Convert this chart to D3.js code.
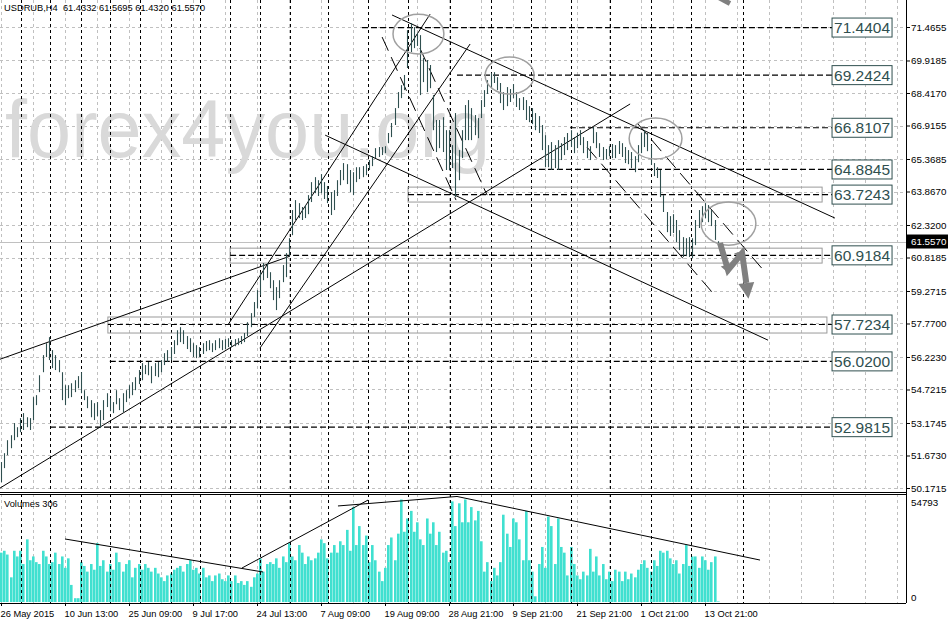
<!DOCTYPE html>
<html lang="en">
<head>
<meta charset="UTF-8" />
<title>USDRUB H4</title>
<script src="https://d3js.org/d3.v7.min.js"></script>
<style>
  body { margin: 0; background: #fff; }
  svg { display: block; }
  text { font-family: "Liberation Sans", Arial, sans-serif; }
</style>
</head>
<body>
<svg id="chart" width="948" height="620"></svg>
<script>
// bar data (H4)
const highs = [
  51.37, 51.78, 52.38, 52.61, 53.17, 52.98, 53.40, 53.63, 53.44, 53.40,
  54.37, 54.46, 55.38, 56.31, 56.86, 57.14, 56.54, 56.31, 56.08, 55.52,
  54.92, 54.92, 55.01, 55.15, 55.34, 55.52, 54.69, 54.41, 54.23, 54.09,
  54.14, 53.77, 54.23, 54.55, 54.32, 54.14, 54.69, 54.32, 54.55, 54.69,
  54.92, 55.06, 55.29, 55.62, 55.94, 55.85, 55.99, 55.80, 55.94, 55.99,
  56.08, 56.40, 56.54, 56.68, 57.00, 57.46, 57.60, 57.46, 57.19, 57.09,
  56.86, 56.77, 56.68, 56.86, 56.96, 57.00, 56.86, 57.00, 57.09, 57.00,
  57.05, 57.09, 57.00, 57.05, 57.09, 57.19, 57.33, 57.83, 58.25, 58.76,
  59.31, 60.14, 60.56, 60.56, 60.14, 59.77, 59.45, 59.77, 60.47, 61.02,
  61.71, 63.01, 63.47, 63.33, 63.15, 63.24, 63.70, 64.30, 64.53, 64.39,
  64.67, 64.30, 64.12, 63.84, 63.93, 64.39, 64.86, 65.18, 65.13, 64.86,
  64.76, 64.99, 64.99, 65.04, 65.13, 65.32, 65.50, 65.87, 65.92, 65.92,
  65.96, 66.57, 67.03, 67.72, 68.46, 68.78, 69.25, 71.32, 71.65, 71.46,
  71.19, 71.09, 70.03, 69.94, 69.71, 68.32, 67.17, 67.17, 67.30, 66.70,
  66.70, 66.01, 67.49, 65.78, 66.70, 67.86, 68.09, 67.72, 67.40, 67.26,
  68.09, 68.55, 69.01, 69.34, 69.38, 69.15, 68.88, 68.46, 68.69, 68.60,
  68.83, 68.46, 68.18, 68.23, 68.09, 67.81, 67.72, 67.49, 67.35, 66.94,
  66.47, 66.01, 66.15, 66.01, 66.24, 66.10, 66.38, 66.57, 66.70, 66.38,
  66.57, 66.70, 66.38, 66.20, 65.96, 66.84, 66.61, 66.10, 65.92, 65.83,
  65.96, 66.06, 66.01, 66.20, 66.10, 65.92, 65.78, 65.69, 65.50, 66.01,
  66.57, 66.70, 66.57, 66.01, 65.18, 64.99, 64.86, 63.70, 62.92, 62.73,
  62.82, 62.55, 62.08, 61.76, 61.71, 61.76, 61.71, 62.55, 63.01, 63.19,
  63.33, 63.24, 63.01, 62.55, 61.57
];
const lows = [
  50.44, 51.09, 51.69, 52.01, 52.38, 52.52, 52.75, 52.85, 52.98, 52.85,
  53.31, 54.00, 54.60, 55.52, 56.22, 56.08, 55.71, 55.62, 55.52, 54.23,
  54.00, 54.32, 54.37, 54.60, 54.78, 54.55, 54.23, 53.86, 53.44, 53.31,
  53.49, 52.94, 53.31, 53.91, 53.72, 53.63, 54.04, 53.77, 53.67, 54.14,
  54.32, 54.46, 54.69, 54.97, 55.15, 55.43, 55.38, 55.01, 55.34, 55.29,
  55.52, 55.85, 55.99, 56.08, 56.36, 56.77, 56.91, 56.82, 56.59, 56.45,
  56.22, 56.17, 56.22, 56.36, 56.49, 56.54, 56.45, 56.54, 56.63, 56.54,
  56.59, 56.68, 56.68, 56.72, 56.77, 56.82, 56.91, 57.19, 57.60, 58.07,
  58.48, 59.08, 59.77, 59.87, 59.40, 58.85, 58.39, 58.94, 59.68, 59.91,
  60.88, 61.85, 62.55, 62.64, 62.55, 62.64, 62.82, 63.38, 63.79, 63.66,
  63.79, 63.52, 63.33, 62.78, 63.01, 63.66, 64.16, 64.39, 64.21, 63.84,
  63.70, 64.30, 64.44, 64.53, 64.62, 64.86, 65.04, 65.41, 65.46, 65.55,
  65.64, 66.10, 66.38, 66.94, 67.72, 68.18, 68.55, 69.57, 70.31, 70.49,
  70.59, 68.32, 68.92, 68.46, 68.64, 66.70, 65.69, 65.87, 65.69, 64.86,
  64.86, 64.95, 63.61, 64.39, 65.41, 66.24, 66.24, 66.24, 66.47, 66.33,
  67.26, 67.77, 68.37, 68.64, 68.88, 68.55, 67.95, 67.63, 67.81, 68.00,
  68.18, 67.77, 67.63, 67.63, 67.17, 67.07, 66.98, 66.70, 66.57, 65.78,
  64.99, 64.99, 64.86, 64.95, 64.86, 65.32, 65.55, 65.78, 65.92, 65.64,
  65.87, 66.01, 65.64, 65.41, 65.32, 66.10, 65.87, 65.46, 65.32, 65.36,
  65.50, 65.41, 65.41, 65.60, 65.46, 65.18, 65.13, 64.95, 64.76, 65.22,
  65.64, 65.92, 65.73, 65.09, 64.58, 64.49, 63.61, 62.92, 61.99, 61.81,
  61.95, 61.53, 61.16, 60.84, 60.88, 60.84, 60.79, 61.39, 62.18, 62.45,
  62.64, 62.45, 62.27, 61.63, 61.43
];
// tick volumes, thousands
const volumes = [
  26, 27, 25, 13, 27, 24, 27, 20, 33, 22,
  24, 21, 20, 27, 24, 20, 21, 26, 20, 24,
  18, 23, 9, 2, 2, 21, 19, 16, 20, 17,
  31, 19, 22, 16, 20, 17, 26, 21, 16, 20,
  22, 13, 18, 20, 17, 20, 18, 16, 18, 15,
  13, 11, 14, 15, 17, 18, 19, 16, 20, 22,
  17, 18, 15, 18, 13, 14, 11, 14, 15, 12,
  11, 14, 11, 14, 10, 11, 9, 11, 8, 13,
  15, 23, 16, 20, 21, 20, 23, 18, 24, 21,
  31, 24, 22, 30, 26, 20, 24, 22, 23, 26,
  33, 31, 23, 26, 30, 26, 32, 30, 38, 27,
  50, 30, 40, 30, 35, 21, 30, 22, 16, 11,
  18, 30, 34, 22, 36, 54, 37, 44, 48, 37,
  42, 33, 30, 44, 36, 42, 30, 37, 26, 27,
  21, 53, 40, 52, 42, 54, 42, 50, 43, 48,
  32, 16, 21, 11, 18, 14, 21, 46, 36, 29,
  44, 42, 33, 22, 48, 22, 16, 3, 20, 29,
  18, 45, 40, 20, 44, 29, 26, 14, 29, 20,
  14, 12, 16, 14, 28, 16, 24, 14, 20, 12,
  16, 11, 17, 16, 11, 16, 12, 15, 13, 17,
  20, 22, 18, 16, 22, 19, 27, 26, 27, 23,
  20, 22, 15, 20, 30, 19, 24, 24, 18, 24,
  22, 17, 21, 24, 0.306
];
const volMax = 54793;
const lastVolume = 306;

const dateLabels = ["26 May 2015", "10 Jun 13:00", "25 Jun 09:00", "9 Jul 17:00",
  "24 Jul 13:00", "7 Aug 09:00", "19 Aug 09:00", "28 Aug 21:00", "9 Sep 21:00",
  "21 Sep 21:00", "1 Oct 21:00", "13 Oct 21:00"];
const dateBars = [0, 20, 40, 60, 80, 100, 120, 140, 160, 180, 200, 220];
const priceTicks = [71.4655, 69.9185, 68.4170, 66.9155, 65.3685, 63.8670, 62.3200,
  60.8185, 59.2715, 57.7700, 56.2230, 54.7215, 53.1745, 51.6730, 50.1715];

// analyst drawings
const levels = [71.4404, 69.2424, 66.8107, 64.8845, 63.7243, 60.9184, 57.7234, 56.0200, 52.9815];
const levelStartBars = [112.8, 142.5, 177.8, 165.3, 127.2, 71.6, 33.4, 34, 15.3];
const zoneBars = [[127.2, 256.6], [71.6, 256.6], [33.4, 258.1]];
const zonePrices = [[64.07, 63.38], [61.25, 60.56], [58.07, 57.33]];
const separatorBars = [6.25, 15.3, 25, 34.1, 43.4, 53.1, 62.2, 71.6, 80.9, 90.3,
  102.2, 114.7, 127.2, 140.3, 153.1, 165.6, 178.1, 190.3, 203.1, 215.6, 231.9];
const trendLines = [
  [-0.3, 56.12, 90.3, 60.88],
  [-0.3, 50.17, 196.6, 67.91],
  [70.9, 57.70, 134.1, 72.06],
  [80.9, 56.63, 146.6, 70.68],
  [122.2, 72.02, 260.6, 62.64],
  [101.3, 66.47, 239.7, 57.00]
];
const channelLines = [
  [119.1, 71.00, 142.2, 63.47],
  [130.9, 70.49, 151.9, 63.70],
  [183.1, 65.92, 222.2, 59.22],
  [198.8, 67.03, 238.8, 60.14]
];
const volumeLines = [
  [20, 33.2, 81.9, 15.8],
  [75.3, 17.9, 114.7, 53.7],
  [105.3, 50.6, 142.5, 55.6],
  [142.5, 55.6, 237.2, 22.1]
];
const ellipseBars = [[122.5, 138.4], [151.3, 166.6], [196.3, 212.8], [218.8, 235.9]];
const ellipsePrices = [[72.06, 70.22], [70.08, 68.37], [67.26, 65.37], [63.38, 61.39]];
const arrowPoints = [[224.7, 61.48], [227.2, 60.24], [231.6, 61.02], [232.9, 59.64]];
const lastPrice = 61.5570;
const header = "USDRUB,H4  61.4332 61.5695 61.4320 61.5570";
const labelBar = 259.7;

const svg = d3.select("#chart");
const plotRight = 906;
const mainBottom = 492;
const volTop = 494;
const volBottom = 603;

const x = d3.scaleLinear().domain([0, 280]).range([1, 897]);
const y = d3.scaleLinear().domain([50.1715, 71.4655]).range([488, 27]);
const yVol = d3.scaleLinear().domain([0, volMax / 1000]).range([602, 498]);

svg.append("rect").attr("width", 948).attr("height", 620).attr("fill", "#fff");

const defs = svg.append("defs");
defs.append("clipPath").attr("id", "clipMain")
  .append("rect").attr("x", 0).attr("y", 0).attr("width", plotRight).attr("height", mainBottom);
defs.append("clipPath").attr("id", "clipVol")
  .append("rect").attr("x", 0).attr("y", volTop).attr("width", plotRight).attr("height", volBottom - volTop);

const main = svg.append("g").attr("clip-path", "url(#clipMain)");
const vol = svg.append("g").attr("clip-path", "url(#clipVol)");

// grid
const gridBars = d3.range(0, 281, 10);
[main, vol].forEach((g, k) => {
  g.selectAll(".vgrid").data(gridBars).join("line")
    .attr("x1", d => Math.round(x(d)) + 0.5).attr("x2", d => Math.round(x(d)) + 0.5)
    .attr("y1", k ? volTop : 0).attr("y2", k ? volBottom : mainBottom)
    .attr("stroke", "#c0c0c0").attr("stroke-dasharray", "3,3");
});
main.selectAll(".hgrid").data(priceTicks).join("line")
  .attr("x1", 0).attr("x2", plotRight)
  .attr("y1", d => Math.round(y(d)) + 0.5).attr("y2", d => Math.round(y(d)) + 0.5)
  .attr("stroke", "#c0c0c0").attr("stroke-dasharray", "3,3");

// watermark
main.append("text")
  .attr("x", 5).attr("y", 157)
  .attr("textLength", 485).attr("lengthAdjust", "spacingAndGlyphs")
  .style("font-size", "82px").attr("fill", "#d9d9d9")
  .text("forex4you.org");

// volumes (separators go on top of them)
vol.selectAll(".vbar").data(volumes).join("rect")
  .attr("x", (d, i) => Math.round(x(i)) - 1).attr("width", 2.6)
  .attr("y", d => yVol(d)).attr("height", d => yVol(0) - yVol(d))
  .attr("fill", "#40e0d0");

// black dashed separators
[main, vol].forEach((g, k) => {
  g.selectAll(".sep").data(separatorBars).join("line")
    .attr("x1", d => Math.round(x(d)) + 0.5).attr("x2", d => Math.round(x(d)) + 0.5)
    .attr("y1", k ? volTop : 0).attr("y2", k ? volBottom : mainBottom)
    .attr("stroke", "#000").attr("stroke-dasharray", "3,3");
});

vol.selectAll(".vline").data(volumeLines).join("line")
  .attr("x1", d => x(d[0])).attr("y1", d => yVol(d[1]))
  .attr("x2", d => x(d[2])).attr("y2", d => yVol(d[3]))
  .attr("stroke", "#000").attr("stroke-width", 1);

// zones
main.selectAll(".zone").data(zoneBars).join("rect")
  .attr("x", d => x(d[0])).attr("width", d => x(d[1]) - x(d[0]))
  .attr("y", (d, i) => y(zonePrices[i][0]))
  .attr("height", (d, i) => y(zonePrices[i][1]) - y(zonePrices[i][0]))
  .attr("fill", "none").attr("stroke", "#9a9a9a");

// current price line
main.append("line")
  .attr("x1", 0).attr("x2", plotRight)
  .attr("y1", Math.round(y(lastPrice)) + 0.5).attr("y2", Math.round(y(lastPrice)) + 0.5)
  .attr("stroke", "#c0c0c0");

// horizontal levels
main.selectAll(".level").data(levels).join("line")
  .attr("x1", (d, i) => x(levelStartBars[i])).attr("x2", x(labelBar))
  .attr("y1", d => y(d)).attr("y2", d => y(d))
  .attr("stroke", "#000").attr("stroke-width", 1.2).attr("stroke-dasharray", "6,3");

// trend lines
main.selectAll(".trend").data(trendLines).join("line")
  .attr("x1", d => x(d[0])).attr("y1", d => y(d[1]))
  .attr("x2", d => x(d[2])).attr("y2", d => y(d[3]))
  .attr("stroke", "#000").attr("stroke-width", 1);
main.selectAll(".channel").data(channelLines).join("line")
  .attr("x1", d => x(d[0])).attr("y1", d => y(d[1]))
  .attr("x2", d => x(d[2])).attr("y2", d => y(d[3]))
  .attr("stroke", "#000").attr("stroke-width", 1).attr("stroke-dasharray", "15,7");

// price bars
main.selectAll(".bar").data(highs).join("line")
  .attr("x1", (d, i) => Math.round(x(i)) + 0.5).attr("x2", (d, i) => Math.round(x(i)) + 0.5)
  .attr("y1", d => y(d)).attr("y2", (d, i) => y(lows[i]))
  .attr("stroke", "#2f4f4f").attr("stroke-width", 1.1);

// ellipses
main.selectAll(".ell").data(ellipseBars).join("ellipse")
  .attr("cx", d => (x(d[0]) + x(d[1])) / 2)
  .attr("rx", d => (x(d[1]) - x(d[0])) / 2)
  .attr("cy", (d, i) => (y(ellipsePrices[i][0]) + y(ellipsePrices[i][1])) / 2)
  .attr("ry", (d, i) => (y(ellipsePrices[i][1]) - y(ellipsePrices[i][0])) / 2)
  .attr("fill", "none").attr("stroke", "#a0a0a0").attr("stroke-width", 1.5);

// zigzag arrow
const pts = arrowPoints.map(p => [x(p[0]), y(p[1])]);
main.append("path")
  .attr("d", d3.line()(pts))
  .attr("fill", "none").attr("stroke", "#808080").attr("stroke-width", 6)
  .attr("stroke-linejoin", "miter");
pts.slice(1).forEach((p, k) => {
  const q = pts[k];
  const last = k === pts.length - 2;
  const len = last ? 16 : 9, half = last ? 8 : 6;
  const dx = p[0] - q[0], dy = p[1] - q[1];
  const n = Math.hypot(dx, dy);
  const ux = dx / n, uy = dy / n;
  const base = last ? p : [p[0] - ux * len * 0.6, p[1] - uy * len * 0.6];
  const tip = [base[0] + ux * len, base[1] + uy * len];
  main.append("path")
    .attr("d", d3.line()([
      [base[0] - uy * half, base[1] + ux * half], tip,
      [base[0] + uy * half, base[1] - ux * half]]) + "Z")
    .attr("fill", "#808080");
});
main.append("line")
  .attr("x1", x(224)).attr("y1", y(72.85)).attr("x2", x(227.8)).attr("y2", y(72.55))
  .attr("stroke", "#808080").attr("stroke-width", 5);

// frame
const frame = svg.append("g").attr("stroke", "#000").attr("shape-rendering", "crispEdges");
frame.append("line").attr("x1", 0).attr("x2", plotRight).attr("y1", mainBottom + 0.5).attr("y2", mainBottom + 0.5);
frame.append("line").attr("x1", 0).attr("x2", plotRight).attr("y1", volTop + 0.5).attr("y2", volTop + 0.5);
frame.append("line").attr("x1", 0).attr("x2", plotRight).attr("y1", volBottom + 0.5).attr("y2", volBottom + 0.5);
frame.append("line").attr("x1", plotRight + 0.5).attr("x2", plotRight + 0.5).attr("y1", 0).attr("y2", volBottom);

// level labels
const boxes = svg.append("g");
levels.forEach(v => {
  const yy = y(v);
  boxes.append("rect")
    .attr("x", x(labelBar)).attr("y", yy - 9.5).attr("width", 60).attr("height", 19)
    .attr("fill", "#fff").attr("stroke", "#2f4f4f");
  boxes.append("text")
    .attr("x", x(labelBar) + 30).attr("y", yy).attr("dy", "0.36em")
    .attr("text-anchor", "middle").style("font-size", "15.5px").attr("fill", "#2f4f4f")
    .text(v.toFixed(4));
});

// price axis
const yAxis = d3.axisRight(y).tickValues(priceTicks).tickSize(4).tickPadding(1)
  .tickFormat(d => d.toFixed(4));
const ya = svg.append("g").attr("transform", `translate(${plotRight},0)`).call(yAxis);
ya.select(".domain").remove();
ya.selectAll("text").style("font-size", "9.8px").attr("fill", "#000");

svg.append("rect").attr("x", plotRight + 1).attr("y", y(lastPrice) - 7)
  .attr("width", 42).attr("height", 14).attr("fill", "#000");
svg.append("text").attr("x", plotRight + 5).attr("y", y(lastPrice)).attr("dy", "0.36em")
  .style("font-size", "9.8px").attr("fill", "#fff").text(lastPrice.toFixed(4));

// volume axis
svg.append("text").attr("x", plotRight + 5).attr("y", yVol(volMax / 1000) + 4).attr("dy", "0.36em")
  .style("font-size", "9.8px").text(volMax);
svg.append("text").attr("x", plotRight + 5).attr("y", yVol(0) - 5).attr("dy", "0.36em")
  .style("font-size", "9.8px").text(0);
svg.append("text").attr("x", 4).attr("y", 507).style("font-size", "9.3px")
  .text("Volumes " + lastVolume);

// time axis
const xAxis = d3.axisBottom(x).tickValues(dateBars).tickSize(3).tickPadding(4)
  .tickFormat((d, i) => dateLabels[i]);
const xa = svg.append("g").attr("transform", `translate(0,${volBottom})`).call(xAxis);
xa.select(".domain").remove();
xa.selectAll("text").attr("text-anchor", "start").attr("x", -1)
  .style("font-size", "9.3px").attr("fill", "#000");

// header
svg.append("text").attr("x", 4).attr("y", 11).style("font-size", "9.3px")
  .style("white-space", "pre").attr("xml:space", "preserve").text(header);
</script>
</body>
</html>
